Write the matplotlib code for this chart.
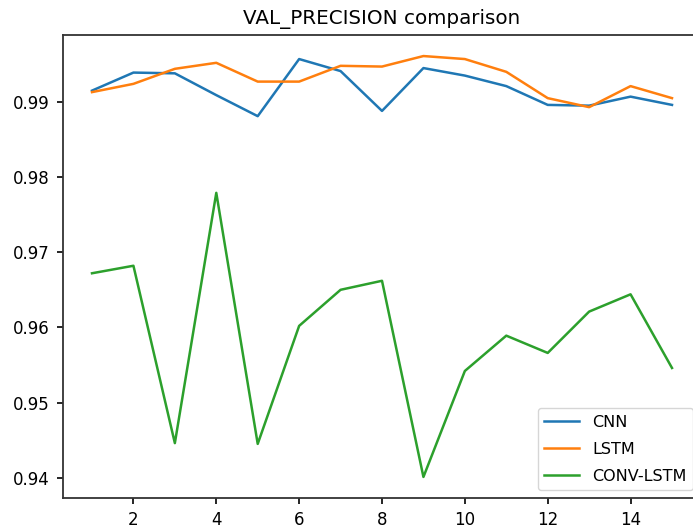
import numpy as np
import matplotlib
matplotlib.use("Agg")
import matplotlib.pyplot as plt

# --- values ---
epochs = list(range(1, 16))
cnn = [0.9915, 0.9939, 0.9938, 0.9909, 0.9881, 0.9957, 0.9941, 0.9888,
       0.9945, 0.9935, 0.9921, 0.9896, 0.9895, 0.9907, 0.9896]
lstm = [0.9913, 0.9924, 0.9944, 0.9952, 0.9927, 0.9927, 0.9948, 0.9947,
        0.9961, 0.9957, 0.9940, 0.9905, 0.9893, 0.9921, 0.9905]
conv_lstm = [0.9672, 0.9682, 0.9446, 0.9779, 0.9445, 0.9602, 0.9650, 0.9662,
             0.9401, 0.9542, 0.9589, 0.9566, 0.9621, 0.9644, 0.9546]

fig = plt.figure(figsize=(6.93, 5.28), dpi=100)
# axes runs a bit past the right edge, as in the cropped reference
ax = fig.add_axes([63/693, 30/528, 638/693, 463/528])

lw = 1.8
ax.plot(epochs, cnn, color="#1f77b4", lw=lw, label="CNN")
ax.plot(epochs, lstm, color="#ff7f0e", lw=lw, label="LSTM")
ax.plot(epochs, conv_lstm, color="#2ca02c", lw=lw, label="CONV-LSTM")

ax.set_title("VAL_PRECISION comparison", fontsize=14.3, pad=8)
ax.set_xticks([2, 4, 6, 8, 10, 12, 14])
ax.set_yticks([0.94, 0.95, 0.96, 0.97, 0.98, 0.99])
ax.tick_params(labelsize=12, length=4.5, width=1.2, pad=5)
for s in ax.spines.values():
    s.set_linewidth(1.3)
    s.set_color("#333333")
ax.legend(loc="lower right", fontsize=11.5, handlelength=2.2, labelspacing=0.75)

fig.savefig("out.png", dpi=100)
